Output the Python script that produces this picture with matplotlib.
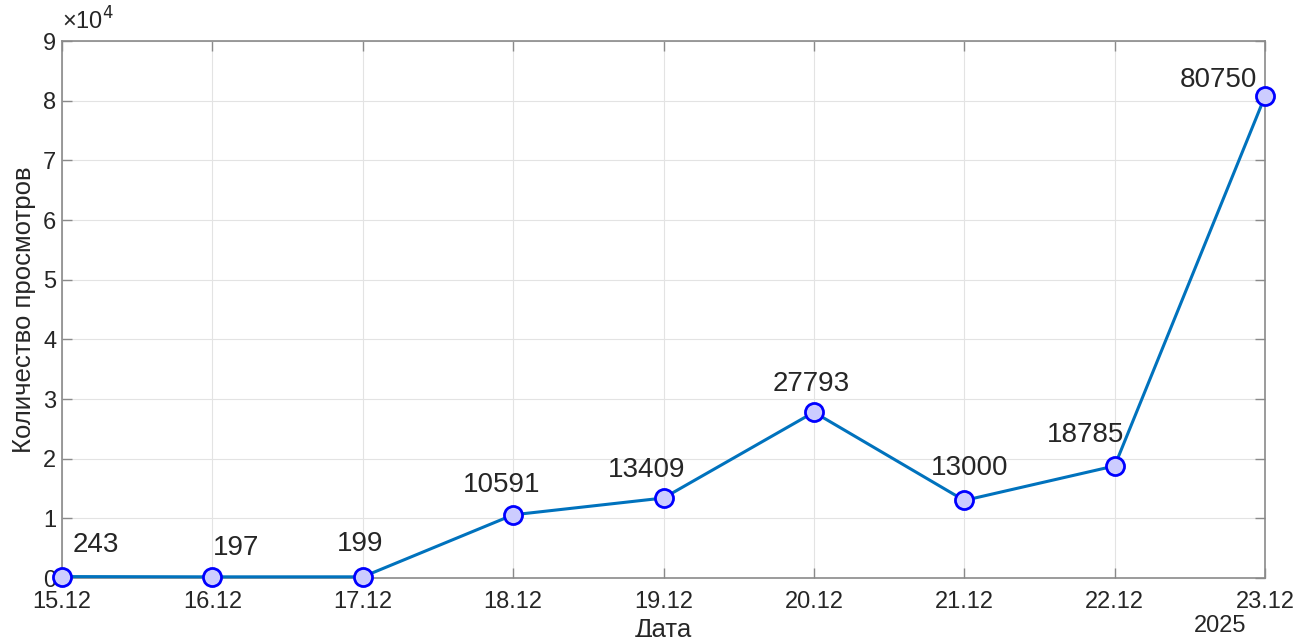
import matplotlib
matplotlib.use("Agg")
from matplotlib import pyplot as plt

dates = ["15.12", "16.12", "17.12", "18.12", "19.12", "20.12", "21.12", "22.12", "23.12"]
views = [243, 197, 199, 10591, 13409, 27793, 13000, 18785, 80750]
yearLabel = "2025"
yTicks = [0, 1, 2, 3, 4, 5, 6, 7, 8, 9]

# label offsets in pixels (dx, dy) relative to each point
labelOffsets = [(34, 32), (24, 29), (-3, 33), (-12, 30), (-17, 28), (-3, 28), (5, 32), (-29, 31), (-47, 16)]

plt.rcParams["font.family"] = ["Liberation Sans", "DejaVu Sans"]

fig = plt.figure(figsize=(12.98, 6.37), dpi=100)
ax = fig.add_axes([0.0478, 0.0926, 0.9268, 0.843])

x = list(range(len(dates)))
ax.plot(x, views, color="#0072BD", linewidth=2.2, marker="o", markersize=13,
        markerfacecolor="#CCCCFF", markeredgecolor="#0000FF", markeredgewidth=2, zorder=3, clip_on=False)

for i, v in enumerate(views):
    dx, dy = labelOffsets[i]
    ax.annotate(str(v), (x[i], v), xytext=(dx, dy), textcoords="offset pixels",
                ha="center", va="center", fontsize=20, color="#262626")

ax.set_xlim(0, len(dates) - 1)
ax.set_ylim(0, 9e4)
ax.set_xticks(x)
ax.set_xticklabels(dates)
ax.set_yticks([t * 1e4 for t in yTicks])
ax.set_yticklabels([str(t) for t in yTicks])

ax.grid(True, color="#e3e3e3", linewidth=0.8)
ax.set_axisbelow(True)
for s in ax.spines.values():
    s.set_color("#8a8a8a")
    s.set_linewidth(1.2)
ax.tick_params(direction="in", length=7, width=1, color="#8a8a8a", labelsize=17,
               labelcolor="#262626", top=True, right=True, pad=4)
ax.tick_params(axis="x", pad=9)

ax.set_xlabel("Дата", fontsize=18.5, color="#262626", labelpad=4)
ax.set_ylabel("Количество просмотров", fontsize=18.5, color="#262626", labelpad=5)

ax.text(0, 1.012, "×10$^4$", transform=ax.transAxes, fontsize=17, color="#262626", va="bottom", ha="left")
ax.text(0.963, -0.069, yearLabel, transform=ax.transAxes, fontsize=17, color="#262626", va="top", ha="center")

fig.savefig("out.png", dpi=100)
